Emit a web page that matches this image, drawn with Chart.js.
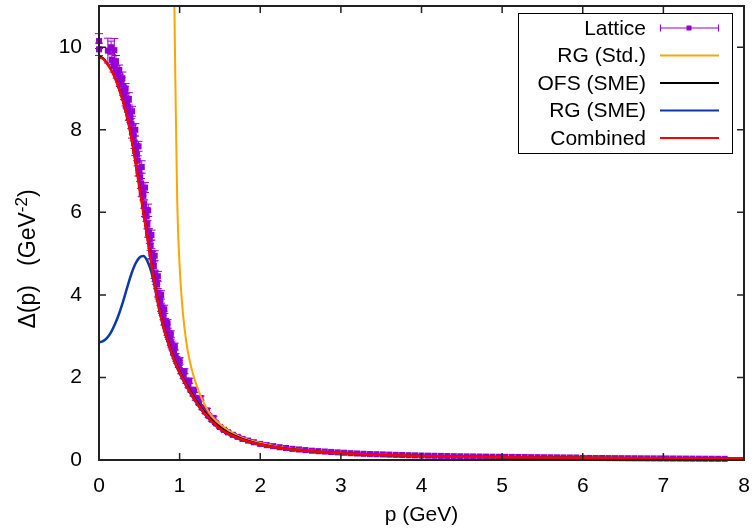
<!DOCTYPE html>
<html lang="en">
<head>
<meta charset="UTF-8">
<title>Delta(p)</title>
<script src="https://cdn.jsdelivr.net/npm/chart.js"></script>
<style>
    body { margin: 0; background: #fff; }
</style>
</head>
<body>
<canvas id="grafico" width="755" height="528"></canvas>
<script>
    // eixos
    var xTicks = [0, 1, 2, 3, 4, 5, 6, 7, 8];
    var yTicks = [0, 2, 4, 6, 8, 10];
    var xTitulo = 'p (GeV)';
    var yTitulo = ['Δ(p)   (GeV', '-2', ')'];   // texto, expoente, fecho

    // Lattice (p, Delta, erro)
    var latP = [
        0.00, 0.00, 0.11, 0.15, 0.19,
        0.16, 0.18, 0.20, 0.22, 0.24, 0.26, 0.28, 0.30, 0.32, 0.34, 0.36, 0.38, 0.40, 0.42, 0.44, 0.46, 0.48,
        0.50, 0.52, 0.54, 0.56, 0.58, 0.60, 0.62, 0.64, 0.66, 0.68, 0.70, 0.72, 0.74, 0.76, 0.78, 0.80,
        0.82, 0.84, 0.86, 0.88, 0.90, 0.93, 0.96, 0.99, 1.02, 1.05, 1.08, 1.11, 1.14, 1.17, 1.20,
        1.24, 1.28, 1.32, 1.36, 1.40, 1.45, 1.50, 1.55, 1.60, 1.66, 1.72, 1.78, 1.85, 1.92, 2.00,
        2.08, 2.16, 2.24, 2.32, 2.40, 2.48, 2.56, 2.64, 2.72, 2.80, 2.88, 2.96, 3.04, 3.12, 3.20, 3.28,
        3.36, 3.44, 3.52, 3.60, 3.68, 3.76, 3.84, 3.92, 4.00, 4.08, 4.16, 4.24, 4.32, 4.40, 4.48, 4.56,
        4.64, 4.72, 4.80, 4.88, 4.96, 5.04, 5.12, 5.20, 5.28, 5.36, 5.44, 5.52, 5.60, 5.68, 5.76, 5.84,
        5.92, 6.00, 6.08, 6.16, 6.24, 6.32, 6.40, 6.48, 6.56, 6.64, 6.72, 6.80, 6.88, 6.96, 7.04, 7.12,
        7.20, 7.28, 7.36, 7.44, 7.52, 7.60, 7.68, 7.76,
        0.21, 0.25, 0.29, 0.33, 0.37, 0.41, 0.45, 0.49, 0.53, 0.57, 0.61, 0.65, 0.69, 0.73, 0.77, 0.81,
        0.85, 0.89, 0.94, 1.00, 1.06, 1.12, 1.18, 1.26, 1.34, 1.42,
        0.31, 0.33, 0.35, 0.37, 0.39, 0.41, 0.43, 0.45, 0.47, 0.49, 0.51, 0.53, 0.55, 0.57, 0.59, 0.61,
        0.63, 0.65, 0.67, 0.69, 0.71, 0.73, 0.75, 0.77, 0.79, 0.81, 0.83, 0.85, 0.87, 0.89, 0.91, 0.93,
        0.95, 0.97, 0.99
    ];
    var latD = [
        10.15, 9.95, 9.92, 10.0, 9.93,
        9.7, 9.55, 9.6, 9.4, 9.35, 9.2, 9.15, 8.95, 8.9, 8.65, 8.55, 8.4, 8.15, 8.0, 7.7, 7.55, 7.25,
        7.0, 6.7, 6.5, 6.2, 6.0, 5.7, 5.5, 5.2, 4.95, 4.7, 4.45, 4.25, 4.0, 3.85, 3.65, 3.5,
        3.35, 3.2, 3.05, 2.95, 2.8, 2.62, 2.45, 2.3, 2.15, 2.03, 1.92, 1.8, 1.7, 1.6, 1.5,
        1.38, 1.27, 1.17, 1.07, 0.98, 0.89, 0.8, 0.73, 0.67, 0.61, 0.56, 0.51, 0.47, 0.43, 0.39,
        0.36, 0.335, 0.31, 0.29, 0.27, 0.255, 0.24, 0.225, 0.215, 0.205, 0.195, 0.185, 0.175, 0.165, 0.158, 0.15,
        0.145, 0.14, 0.135, 0.13, 0.125, 0.12, 0.116, 0.112, 0.108, 0.105, 0.102, 0.099, 0.096, 0.093, 0.09, 0.088,
        0.086, 0.084, 0.082, 0.08, 0.078, 0.076, 0.074, 0.072, 0.071, 0.069, 0.068, 0.066, 0.065, 0.064, 0.062, 0.061,
        0.06, 0.05, 0.049, 0.048, 0.047, 0.046, 0.045, 0.044, 0.043, 0.042, 0.041, 0.04, 0.039, 0.038, 0.037, 0.036,
        0.035, 0.034, 0.033, 0.032, 0.031, 0.03, 0.029, 0.028,
        9.65, 9.45, 9.25, 9.0, 8.75, 8.45, 8.0, 7.6, 7.1, 6.6, 6.05, 5.45, 4.95, 4.45, 4.0, 3.65,
        3.3, 3.05, 2.75, 2.4, 2.15, 1.92, 1.7, 1.5, 1.2, 1.02,
        8.85, 8.7, 8.65, 8.35, 8.3, 7.95, 7.85, 7.5, 7.4, 7.0, 6.85, 6.5, 6.4, 6.0, 5.9, 5.5,
        5.35, 5.0, 4.85, 4.5, 4.35, 4.05, 3.95, 3.7, 3.6, 3.35, 3.3, 3.1, 3.0, 2.85, 2.75, 2.6,
        2.52, 2.4, 2.35
    ];
    var latErr = [
        0.18, 0.15, 0.3, 0.15, 0.28,
        0.12, 0.15, 0.12, 0.15, 0.12, 0.15, 0.12, 0.12, 0.15, 0.12, 0.12, 0.15, 0.12, 0.12, 0.15, 0.12, 0.12,
        0.1, 0.12, 0.1, 0.1, 0.12, 0.1, 0.1, 0.12, 0.1, 0.1, 0.12, 0.1, 0.1, 0.1, 0.1, 0.1,
        0.08, 0.08, 0.08, 0.08, 0.08, 0.06, 0.06, 0.06, 0.06, 0.06, 0.06, 0.05, 0.05, 0.05, 0.05,
        0.04, 0.04, 0.04, 0.04, 0.04, 0.03, 0.03, 0.03, 0.03, 0.03, 0.03, 0.02, 0.02, 0.02, 0.02,
        0.01, 0.01, 0.01, 0.01, 0.01, 0.01, 0.01, 0.01, 0.01, 0.01, 0.01, 0.01, 0.01, 0.01, 0.01, 0.01,
        0.01, 0.01, 0.01, 0.01, 0.01, 0.01, 0.01, 0.01, 0.01, 0.01, 0.01, 0.01, 0.01, 0.01, 0.01, 0.01,
        0.01, 0.01, 0.01, 0.01, 0.01, 0.01, 0.01, 0.01, 0.01, 0.01, 0.01, 0.01, 0.01, 0.01, 0.01, 0.01,
        0.01, 0.01, 0.01, 0.01, 0.01, 0.01, 0.01, 0.01, 0.01, 0.01, 0.01, 0.01, 0.01, 0.01, 0.01, 0.01,
        0.01, 0.01, 0.01, 0.01, 0.01, 0.01, 0.01, 0.01,
        0.15, 0.12, 0.15, 0.12, 0.15, 0.12, 0.15, 0.12, 0.15, 0.12, 0.15, 0.12, 0.12, 0.12, 0.1, 0.1,
        0.1, 0.08, 0.08, 0.08, 0.06, 0.06, 0.06, 0.05, 0.05, 0.04,
        0.12, 0.12, 0.15, 0.12, 0.12, 0.15, 0.12, 0.12, 0.15, 0.12, 0.1, 0.12, 0.1, 0.1, 0.12, 0.1,
        0.1, 0.12, 0.1, 0.1, 0.1, 0.1, 0.1, 0.1, 0.1, 0.08, 0.08, 0.08, 0.08, 0.08, 0.08, 0.06,
        0.06, 0.06, 0.06
    ];

    // RG (Std.)
    var stdP = [0.925, 0.935, 0.95, 0.97, 1.0, 1.03, 1.06, 1.1, 1.15, 1.2, 1.25, 1.3, 1.35, 1.4, 1.5,
        1.6, 1.7, 1.8, 1.9, 2.0, 2.25, 2.5, 3.0, 3.5, 4.0, 5.0, 6.0, 7.0, 8.0];
    var stdD = [13, 11, 8.8, 6.3, 4.7, 3.8, 3.2, 2.65, 2.2, 1.87, 1.6, 1.38, 1.2, 1.06, 0.87,
        0.72, 0.61, 0.52, 0.46, 0.41, 0.31, 0.25, 0.17, 0.125, 0.097, 0.068, 0.052, 0.041, 0.034];

    // OFS (SME) e Combined usam a mesma malha em p
    var combP = [0, 0.05, 0.1, 0.15, 0.2, 0.25, 0.3, 0.35, 0.4, 0.45, 0.5, 0.55, 0.6, 0.65, 0.7, 0.75,
        0.8, 0.85, 0.9, 0.95, 1.0, 1.05, 1.1, 1.2, 1.3, 1.4, 1.5, 1.6, 1.7, 1.8, 1.9, 2.0,
        2.25, 2.5, 2.75, 3.0, 3.25, 3.5, 4.0, 4.5, 5.0, 5.5, 6.0, 6.5, 7.0, 7.5, 8.0];
    var ofsD = [9.78, 9.74, 9.62, 9.46, 9.25, 8.98, 8.67, 8.29, 7.82, 7.26, 6.64, 6.02, 5.42, 4.78, 4.18, 3.66,
        3.25, 2.93, 2.63, 2.37, 2.15, 1.96, 1.78, 1.46, 1.19, 0.97, 0.8, 0.67, 0.58, 0.5, 0.44, 0.39,
        0.3, 0.24, 0.2, 0.168, 0.142, 0.124, 0.098, 0.081, 0.069, 0.06, 0.053, 0.047, 0.042, 0.038, 0.035];
    var combD = [9.75, 9.72, 9.6, 9.45, 9.25, 8.98, 8.68, 8.3, 7.82, 7.25, 6.62, 6.0, 5.4, 4.75, 4.15, 3.63,
        3.22, 2.9, 2.6, 2.34, 2.12, 1.93, 1.75, 1.42, 1.15, 0.93, 0.76, 0.64, 0.55, 0.48, 0.42, 0.375,
        0.29, 0.235, 0.195, 0.165, 0.14, 0.122, 0.097, 0.08, 0.068, 0.059, 0.052, 0.046, 0.041, 0.037, 0.034];

    // RG (SME)
    var smeP = [0, 0.05, 0.1, 0.15, 0.2, 0.25, 0.3, 0.35, 0.4, 0.45, 0.5, 0.55, 0.6, 0.65, 0.7, 0.75,
        0.8, 0.85, 0.9, 0.95, 1.0, 1.1, 1.2, 1.3, 1.4, 1.5, 1.6, 1.8, 2.0, 2.5, 3.0, 4.0, 5.0, 6.0, 7.0, 8.0];
    var smeD = [2.85, 2.88, 2.96, 3.1, 3.3, 3.55, 3.85, 4.18, 4.5, 4.75, 4.9, 4.94, 4.82, 4.55, 4.12, 3.62,
        3.2, 2.88, 2.58, 2.32, 2.1, 1.73, 1.41, 1.14, 0.92, 0.75, 0.63, 0.47, 0.37, 0.23, 0.16, 0.095, 0.067, 0.051, 0.04, 0.033];

    var nomes = ['Lattice', 'RG (Std.)', 'OFS (SME)', 'RG (SME)', 'Combined'];
    var cores = ['#9400d3', '#ffa500', '#000000', '#0a3aa8', '#ff0000'];

    var fonte = 'Liberation Sans, Arial, Helvetica, sans-serif';

    function pares(px, py) {
        var n = Math.min(px.length, py.length);
        var out = [];
        for (var i = 0; i < n; i++) out.push({ x: px[i], y: py[i] });
        return out;
    }

    function linha(i, px, py, largura, ordem) {
        return {
            label: nomes[i],
            data: pares(px, py),
            showLine: true,
            borderColor: cores[i],
            backgroundColor: cores[i],
            borderWidth: largura,
            pointRadius: 0,
            cubicInterpolationMode: 'monotone',
            order: ordem
        };
    }

    // tira o padding automatico que o Chart.js poe nas pontas dos eixos
    function semPadding(s) {
        s.paddingLeft = 0; s.paddingRight = 0; s.paddingTop = 0; s.paddingBottom = 0;
    }

    // barras de erro da Lattice
    const barrasErro = {
        id: 'barrasErro',
        beforeDatasetDraw(chart, args) {
            if (args.index !== 0) return;
            const ctx = chart.ctx, sx = chart.scales.x, sy = chart.scales.y;
            ctx.save();
            ctx.strokeStyle = cores[0];
            ctx.lineWidth = 1;
            const n = Math.min(latP.length, latD.length, latErr.length);
            for (let i = 0; i < n; i++) {
                const x = sx.getPixelForValue(latP[i]);
                const y1 = sy.getPixelForValue(latD[i] - latErr[i]);
                const y2 = sy.getPixelForValue(latD[i] + latErr[i]);
                ctx.beginPath();
                ctx.moveTo(x, y1); ctx.lineTo(x, y2);
                ctx.moveTo(x - 4, y1); ctx.lineTo(x + 4, y1);
                ctx.moveTo(x - 4, y2); ctx.lineTo(x + 4, y2);
                ctx.stroke();
            }
            ctx.restore();
        }
    };

    // moldura com ticks para dentro (estilo gnuplot), titulo do eixo y e legenda
    const moldura = {
        id: 'moldura',
        afterDatasetsDraw(chart) {
            const ctx = chart.ctx, a = chart.chartArea, sx = chart.scales.x, sy = chart.scales.y;
            const t = 7;
            ctx.save();
            ctx.strokeStyle = '#222';
            ctx.lineWidth = 1.5;
            ctx.beginPath();
            xTicks.forEach(v => {
                const x = sx.getPixelForValue(v);
                ctx.moveTo(x, a.bottom); ctx.lineTo(x, a.bottom - t);
                ctx.moveTo(x, a.top); ctx.lineTo(x, a.top + t);
            });
            yTicks.forEach(v => {
                const y = sy.getPixelForValue(v);
                ctx.moveTo(a.left, y); ctx.lineTo(a.left + t, y);
                ctx.moveTo(a.right, y); ctx.lineTo(a.right - t, y);
            });
            ctx.stroke();
            ctx.lineWidth = 2;
            ctx.strokeRect(a.left, a.top, a.right - a.left, a.bottom - a.top);

            // titulo y com expoente
            ctx.save();
            ctx.translate(28, 259);
            ctx.rotate(-Math.PI / 2);
            ctx.fillStyle = '#000';
            ctx.textBaseline = 'middle';
            ctx.textAlign = 'left';
            const fBase = '23px ' + fonte, fSup = '17px ' + fonte;
            ctx.font = fBase;
            const w0 = ctx.measureText(yTitulo[0]).width;
            ctx.font = fSup;
            const w1 = ctx.measureText(yTitulo[1]).width;
            ctx.font = fBase;
            const w2 = ctx.measureText(yTitulo[2]).width;
            let x0 = -(w0 + w1 + w2) / 2;
            ctx.fillText(yTitulo[0], x0, 1);
            ctx.font = fSup;
            ctx.fillText(yTitulo[1], x0 + w0, -6);
            ctx.font = fBase;
            ctx.fillText(yTitulo[2], x0 + w0 + w1, 1);
            ctx.restore();

            // legenda
            const bx = 518, by = 13, bw = 214, bh = 140;
            ctx.fillStyle = '#fff';
            ctx.fillRect(bx, by, bw, bh);
            ctx.lineWidth = 1;
            ctx.strokeStyle = '#000';
            ctx.strokeRect(bx + 0.5, by + 0.5, bw, bh);
            ctx.font = '21px ' + fonte;
            ctx.textAlign = 'right';
            ctx.textBaseline = 'middle';
            for (let i = 0; i < nomes.length; i++) {
                const y = 28 + i * 27.5;
                ctx.fillStyle = '#000';
                ctx.fillText(nomes[i], 646, y + 1);
                ctx.strokeStyle = cores[i];
                if (i === 0) {
                    ctx.lineWidth = 1;
                    ctx.beginPath();
                    ctx.moveTo(660, y); ctx.lineTo(719, y);
                    ctx.moveTo(660.5, y - 3.5); ctx.lineTo(660.5, y + 3.5);
                    ctx.moveTo(718.5, y - 3.5); ctx.lineTo(718.5, y + 3.5);
                    ctx.stroke();
                    ctx.fillStyle = cores[0];
                    ctx.fillRect(686.5, y - 2.5, 5, 5);
                } else {
                    ctx.lineWidth = 2;
                    ctx.beginPath();
                    ctx.moveTo(660, y); ctx.lineTo(719, y);
                    ctx.stroke();
                }
            }
            ctx.restore();
        }
    };

    const canvas = document.getElementById('grafico');
    new Chart(canvas, {
        type: 'scatter',
        data: {
            datasets: [
                {
                    label: nomes[0],
                    data: pares(latP, latD),
                    pointStyle: 'rect',
                    pointRadius: 4.3,
                    backgroundColor: cores[0],
                    borderWidth: 0,
                    showLine: false,
                    clip: false,
                    order: 5
                },
                linha(1, stdP, stdD, 2, 4),
                linha(2, combP, ofsD, 2, 3),
                linha(3, smeP, smeD, 2.5, 2),
                linha(4, combP, combD, 2.5, 1)
            ]
        },
        options: {
            responsive: false,
            animation: false,
            devicePixelRatio: 1,
            layout: { padding: { top: 6, right: 11, left: 0, bottom: 0 } },
            plugins: {
                legend: { display: false },
                tooltip: { enabled: false }
            },
            scales: {
                x: {
                    type: 'linear',
                    min: 0,
                    max: 8,
                    afterBuildTicks: s => { s.ticks = xTicks.map(v => ({ value: v })); },
                    afterFit: s => { s.height = 68; semPadding(s); },
                    grid: { display: false, drawTicks: false },
                    border: { display: false },
                    ticks: { color: '#000', padding: 14, maxRotation: 0, font: { family: fonte, size: 21 } },
                    title: {
                        display: true,
                        text: xTitulo,
                        color: '#000',
                        font: { family: fonte, size: 21 },
                        padding: { top: 0, bottom: 0 }
                    }
                },
                y: {
                    type: 'linear',
                    min: 0,
                    max: 11,
                    afterBuildTicks: s => { s.ticks = yTicks.map(v => ({ value: v })); },
                    afterFit: s => { s.width = 99; semPadding(s); },
                    grid: { display: false, drawTicks: false },
                    border: { display: false },
                    ticks: { color: '#000', padding: 17, font: { family: fonte, size: 21 } }
                }
            }
        },
        plugins: [barrasErro, moldura]
    });
</script>
</body>
</html>
